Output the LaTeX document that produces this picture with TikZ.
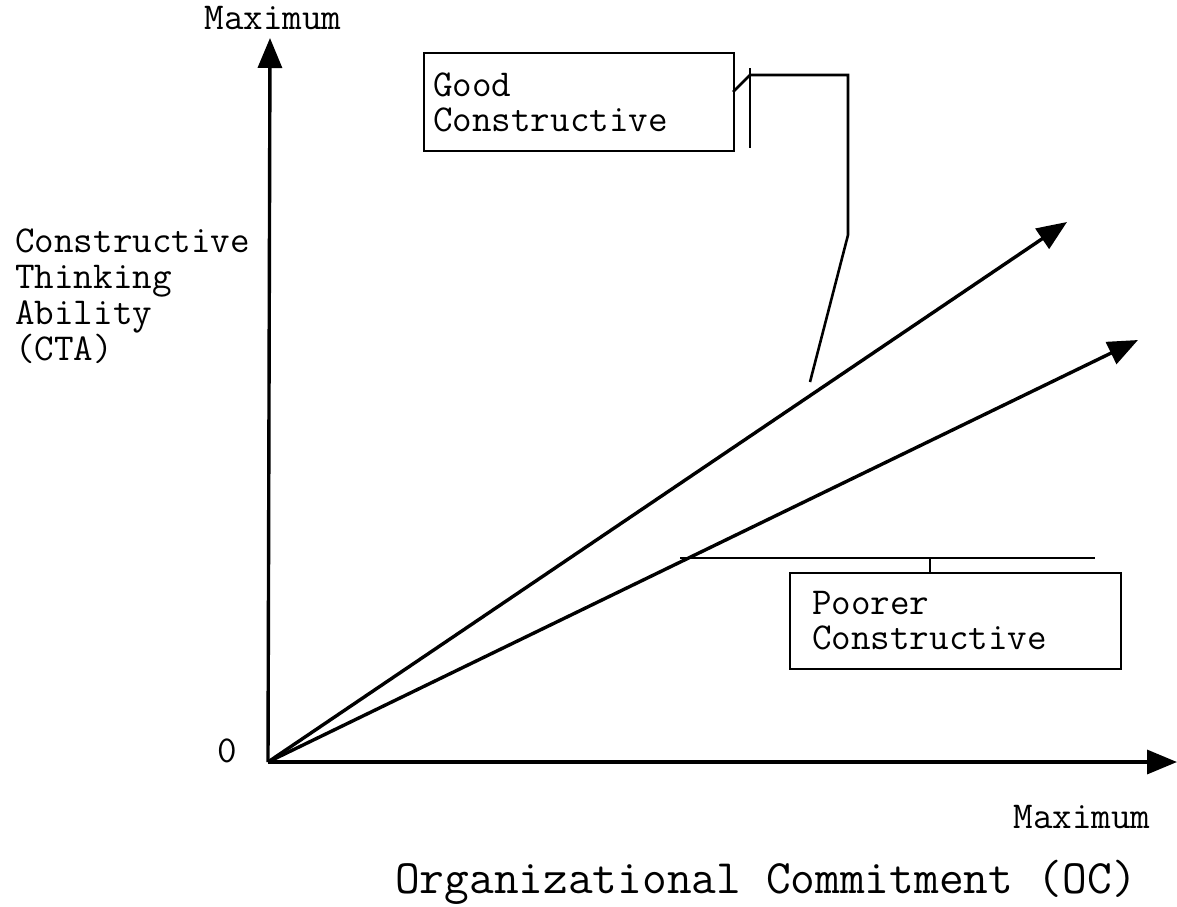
\documentclass[tikz,border=0pt]{standalone}
\usetikzlibrary{arrows.meta}
\begin{document}
\begin{tikzpicture}[x=1pt,y=-1pt,
  tipped/.style={line width=3.4pt,-{Triangle[length=30pt,width=24pt]}},
  lead/.style={line width=2.6pt},
  txt/.style={font=\ttfamily\fontsize{38}{36}\selectfont,inner sep=0pt,align=left},
  boxed/.style={draw,line width=2.2pt,font=\ttfamily\fontsize{38}{35}\selectfont,
    align=left,inner ysep=0pt,anchor=north west}]
\useasboundingbox (0,0) rectangle (1177,906);

% axes
\coordinate (O) at (268,762);
\coordinate (ytop) at (270,38);
\coordinate (xend) at (1177,762);
\draw[tipped] (O) -- (ytop);
\draw[tipped] (O) -- (xend);

% axis labels
\node[txt,anchor=base] (ymax) at (273,29) {Maximum};
\node[txt,anchor=north west] (ylab) at (15,229) {Constructive\\Thinking\\Ability\\(CTA)};
\node[txt,anchor=base] (zero) at (227,762) {0};
\node[txt,anchor=base] (xmax) at (1082,828) {Maximum};
\node[txt,anchor=base,font=\ttfamily\fontsize{48}{48}\selectfont] (xlab) at (766,893) {Organizational Commitment (OC)};

% the two trend arrows
\coordinate (goodtip) at (1067,222);
\coordinate (poortip) at (1138,340);
\draw[tipped] (O) -- (goodtip);
\draw[tipped] (O) -- (poortip);

% label boxes
\node[boxed,minimum width=310pt,minimum height=98pt,text width=292pt,inner xsep=9pt]
  (good) at (423,52) {Good\\Constructive};
\node[boxed,minimum width=331pt,minimum height=96pt,text width=287pt,inner xsep=22pt]
  (poor) at (789,572) {Poorer\\Constructive};

% leader from the upper box to the upper arrow
\coordinate (gA) at (733,92);
\coordinate (gB) at (750,75);
\coordinate (gBarTop) at (750,68);
\coordinate (gBarBot) at (750,148);
\coordinate (gC) at (848,75);
\coordinate (gD) at (848,235);
\coordinate (gE) at (810,382);
\draw[lead] (gBarTop) -- (gBarBot);
\draw[lead] (gA) -- (gB) -- (gC) -- (gD) -- (gE);

% leader from the lower box to the lower arrow
\coordinate (pA) at (680,558);
\coordinate (pB) at (1095,558);
\coordinate (pT) at (930,558);
\draw[lead] (pA) -- (pB);
\draw[lead] (pT) -- (poor.north -| pT);
\end{tikzpicture}
\end{document}
